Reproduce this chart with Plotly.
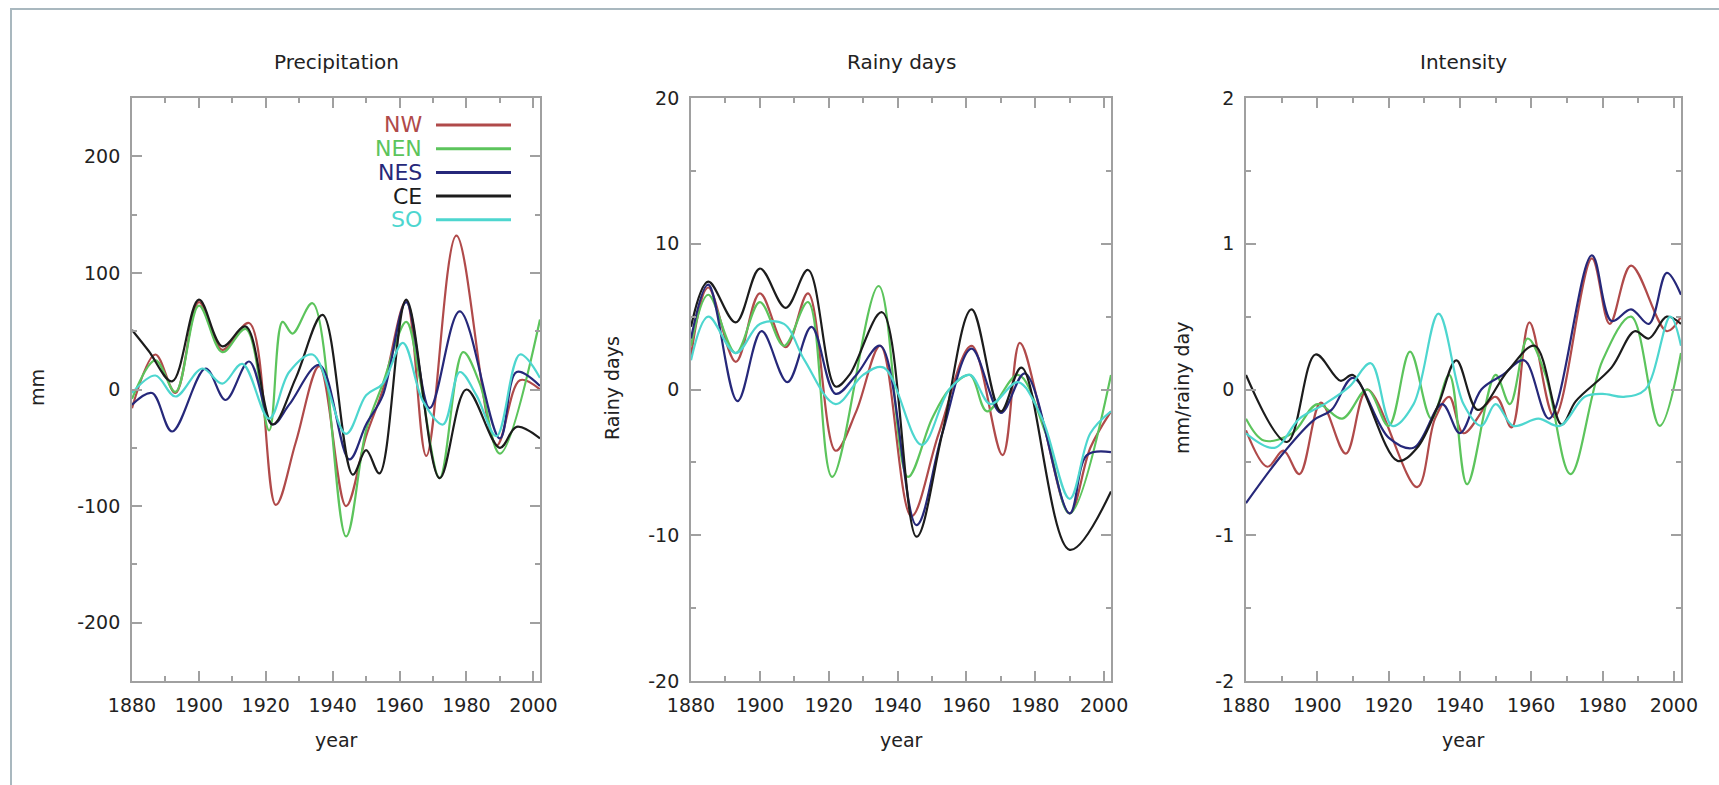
import plotly.graph_objects as go

W, H = 1719, 785

# ---- data -----------------------------------------------------------------
regions = ["NW", "NEN", "NES", "CE", "SO"]
region_colors = ["#b04a4a", "#5cc45c", "#26287a", "#1c1c1c", "#4dd6cf"]

year_ticks = [1880, 1900, 1920, 1940, 1960, 1980, 2000]
year_labels = ["1880", "1900", "1920", "1940", "1960", "1980", "2000"]

# Precipitation anomalies (mm)
precip_nw_years = [1880, 1887, 1893, 1900, 1907, 1915, 1923, 1929, 1936, 1944, 1950, 1955, 1962, 1968, 1977, 1989, 1996, 2002]
precip_nw = [-16, 30, -3, 75, 34, 57, -99, -45, 20, -100, -40, 0, 76, -57, 132, -48, 8, 0]
precip_nen_years = [1880, 1887, 1893, 1900, 1907, 1914, 1921, 1925, 1928, 1934, 1944, 1950, 1955, 1962, 1966, 1972, 1979, 1984, 1990, 2002]
precip_nen = [-8, 25, -2, 72, 32, 52, -35, 58, 48, 74, -126, -35, 5, 58, 10, -76, 32, 5, -55, 60]
precip_nes_years = [1880, 1886, 1892, 1902, 1908, 1915, 1922, 1927, 1936, 1945, 1950, 1955, 1962, 1969, 1978, 1990, 1995, 2002]
precip_nes = [-13, -3, -36, 18, -9, 24, -30, -13, 21, -60, -30, -5, 75, -16, 67, -42, 15, 3]
precip_ce_years = [1880, 1885, 1892, 1900, 1907, 1914, 1922, 1929, 1937, 1946, 1950, 1954, 1962, 1972, 1980, 1990, 1995, 2002]
precip_ce = [51, 33, 7, 77, 37, 54, -30, 10, 64, -73, -52, -72, 77, -76, 0, -50, -32, -42]
precip_so_years = [1880, 1887, 1893, 1901, 1907, 1913, 1921, 1927, 1934, 1944, 1950, 1955, 1961, 1967, 1973, 1978, 1983, 1989, 1996, 2002]
precip_so = [-3, 12, -6, 18, 5, 22, -25, 15, 30, -38, -5, 5, 40, -10, -30, 15, -5, -40, 30, 10]

# Rainy-day anomalies (days)
days_nw_years = [1880, 1885, 1893, 1900, 1907.5, 1914, 1922, 1928, 1935, 1944, 1952, 1961.5, 1970.5, 1975.5, 1982, 1990, 1996, 2002]
days_nw = [2.3, 7, 1.9, 6.6, 2.9, 6.6, -4.2, -1.5, 3, -8.7, -3, 3, -4.5, 3.2, -2, -8.5, -4, -1.5]
days_nen_years = [1880, 1885, 1893, 1900, 1907, 1914, 1921, 1934.5, 1943, 1950, 1955, 1961, 1966, 1975, 1983, 1990, 2002]
days_nen = [3, 6.5, 2.5, 6, 3, 6, -6, 7.1, -6, -2, 0, 1, -1.5, 1, -3, -8.5, 1]
days_nes_years = [1880, 1885, 1893.5, 1900.5, 1908, 1915, 1922, 1928, 1935, 1945.5, 1953, 1961.5, 1970, 1977, 1990, 1995, 2002]
days_nes = [3.5, 7.2, -0.8, 4, 0.5, 4.3, -0.3, 1, 3, -9.3, -3, 2.8, -1.6, 1.1, -8.5, -4.5, -4.3]
days_ce_years = [1880, 1885, 1893, 1900, 1907.5, 1914, 1922, 1926, 1935.5, 1945.5, 1953, 1961.5, 1970, 1976, 1990, 2002]
days_ce = [4.3, 7.4, 4.6, 8.3, 5.6, 8.2, 0.2, 1, 5.3, -10.1, -3, 5.5, -1.5, 1.5, -11, -7]
days_so_years = [1880, 1885, 1893, 1900, 1907, 1913, 1922, 1930, 1936, 1947, 1955, 1961, 1967, 1975, 1982, 1990, 1996, 2002]
days_so = [2, 5, 2.5, 4.5, 4.5, 2, -1, 1, 1.5, -3.8, 0, 1, -1, 0.5, -2, -7.5, -3, -1.5]

# Intensity anomalies (mm / rainy day)
inten_nw_years = [1880, 1886, 1890.5, 1895, 1901, 1908, 1914, 1928, 1933, 1937, 1941, 1950, 1954.5, 1959.5, 1966.5, 1977, 1982, 1988, 1998, 2002]
inten_nw = [-0.28, -0.53, -0.42, -0.58, -0.09, -0.44, 0, -0.67, -0.2, -0.05, -0.3, -0.05, -0.26, 0.46, -0.19, 0.9, 0.45, 0.85, 0.4, 0.5]
inten_nen_years = [1880, 1885, 1893, 1900, 1907, 1914, 1920, 1926, 1932, 1937, 1942, 1950, 1954, 1959, 1964, 1971, 1980, 1988, 1996, 2002]
inten_nen = [-0.2, -0.35, -0.3, -0.1, -0.2, 0, -0.25, 0.26, -0.2, 0.1, -0.65, 0.1, -0.1, 0.35, 0.1, -0.58, 0.2, 0.5, -0.25, 0.25]
inten_nes_years = [1880, 1891, 1899, 1904, 1910, 1920, 1927, 1935, 1940, 1946, 1952, 1958, 1965, 1977, 1982.5, 1988, 1993, 1998, 2002]
inten_nes = [-0.78, -0.42, -0.21, -0.14, 0.08, -0.33, -0.4, -0.1, -0.3, 0, 0.1, 0.2, -0.2, 0.92, 0.47, 0.55, 0.45, 0.8, 0.65]
inten_ce_years = [1880, 1891.5, 1899.5, 1906.5, 1910, 1922.5, 1928, 1934, 1939, 1945, 1953.5, 1961, 1968.5, 1972.5, 1982.5, 1989, 1993, 1998, 2002]
inten_ce = [0.1, -0.36, 0.24, 0.06, 0.1, -0.49, -0.4, -0.1, 0.2, -0.14, 0.13, 0.3, -0.24, -0.08, 0.15, 0.4, 0.35, 0.5, 0.45]
inten_so_years = [1880, 1888, 1895, 1902, 1909, 1915, 1921, 1927, 1934, 1941, 1946, 1950, 1955, 1962, 1968, 1975, 1980, 1986, 1992, 1999, 2002]
inten_so = [-0.3, -0.4, -0.2, -0.1, 0.02, 0.18, -0.25, -0.1, 0.52, -0.1, -0.25, -0.1, -0.25, -0.2, -0.25, -0.05, -0.03, -0.05, 0, 0.5, 0.3]

precip_ticks = [-200, -100, 0, 100, 200]
days_ticks = [-20, -10, 0, 10, 20]
inten_ticks = [-2, -1, 0, 1, 2]

# ---- layout helpers ---------------------------------------------------------
FONT = "DejaVu Sans"
AXIS_GRAY = "#a0a0a0"
TEXT = "#222222"

# pixel placement of the three plot frames
panel_px = [(132, 540), (691, 1111), (1246, 1681)]
plot_top, plot_bottom = 98, 681
ydom = [1 - plot_bottom / H, 1 - plot_top / H]


def px(x):
    return x / W


def py(y):
    return 1 - y / H


panels = [
    dict(title="Precipitation", ytitle="mm", ytitle_x=37, yrange=[-250, 250], yticks=precip_ticks, yminor=50,
         series=[(precip_nw_years, precip_nw), (precip_nen_years, precip_nen), (precip_nes_years, precip_nes),
                 (precip_ce_years, precip_ce), (precip_so_years, precip_so)]),
    dict(title="Rainy days", ytitle="Rainy days", ytitle_x=612, yrange=[-20, 20], yticks=days_ticks, yminor=5,
         series=[(days_nw_years, days_nw), (days_nen_years, days_nen), (days_nes_years, days_nes),
                 (days_ce_years, days_ce), (days_so_years, days_so)]),
    dict(title="Intensity", ytitle="mm/rainy day", ytitle_x=1182, yrange=[-2, 2], yticks=inten_ticks, yminor=0.5,
         series=[(inten_nw_years, inten_nw), (inten_nen_years, inten_nen), (inten_nes_years, inten_nes),
                 (inten_ce_years, inten_ce), (inten_so_years, inten_so)]),
]

fig = go.Figure()
annotations = []
shapes = []
layout_axes = {}

for i, p in enumerate(panels):
    n = "" if i == 0 else str(i + 1)
    xa, ya = "x" + n, "y" + n
    for (yrs, vals), name, col in zip(p["series"], regions, region_colors):
        fig.add_trace(go.Scatter(
            x=yrs, y=vals, mode="lines", name=name, xaxis=xa, yaxis=ya,
            line=dict(color=col, width=2.2, shape="spline", smoothing=1.0),
            showlegend=False, hoverinfo="skip",
        ))

    x0, x1 = panel_px[i]
    lo, hi = p["yrange"]
    yminor_vals = []
    v = lo
    while v <= hi + 1e-9:
        if all(abs(v - t) > 1e-9 for t in p["yticks"]):
            yminor_vals.append(round(v, 6))
        v += p["yminor"]

    common = dict(
        ticks="inside", ticklen=10, tickwidth=1.5, tickcolor=AXIS_GRAY,
        showline=True, linecolor=AXIS_GRAY, linewidth=1.8, mirror="ticks",
        showgrid=False, zeroline=False, automargin=False,
        tickfont=dict(family=FONT, size=19, color=TEXT),
    )
    layout_axes["xaxis" + n] = dict(
        domain=[px(x0), px(x1)], range=[1880, 2002], anchor=ya,
        tickmode="array", tickvals=year_ticks, ticktext=year_labels,
        minor=dict(tickvals=[1890, 1910, 1930, 1950, 1970, 1990], ticks="inside", ticklen=5,
                   tickcolor=AXIS_GRAY, showgrid=False),
        ticklabelstandoff=6, **common)
    layout_axes["yaxis" + n] = dict(
        domain=ydom, range=[lo, hi], anchor=xa,
        tickmode="array", tickvals=p["yticks"], ticktext=[str(t) for t in p["yticks"]],
        minor=dict(tickvals=yminor_vals, ticks="inside", ticklen=5, tickcolor=AXIS_GRAY, showgrid=False),
        ticklabelstandoff=6, **common)

    cx = (x0 + x1) / 2
    annotations.append(dict(text=p["title"], x=px(cx), y=py(62), xref="paper", yref="paper",
                            showarrow=False, xanchor="center", yanchor="middle",
                            font=dict(family=FONT, size=20, color=TEXT)))
    annotations.append(dict(text="year", x=px(cx), y=py(740), xref="paper", yref="paper",
                            showarrow=False, xanchor="center", yanchor="middle",
                            font=dict(family=FONT, size=19, color=TEXT)))
    annotations.append(dict(text=p["ytitle"], x=px(p["ytitle_x"]), y=py(388), xref="paper", yref="paper",
                            showarrow=False, textangle=-90, xanchor="center", yanchor="middle",
                            font=dict(family=FONT, size=19, color=TEXT)))

# key inside the precipitation frame: label then line sample
for k, (name, col) in enumerate(zip(regions, region_colors)):
    ky = 125 + k * 23.7
    annotations.append(dict(text=name, x=px(424), y=py(ky), xref="paper", yref="paper",
                            showarrow=False, xanchor="right", yanchor="middle",
                            font=dict(family=FONT, size=22, color=col)))
    shapes.append(dict(type="line", xref="paper", yref="paper", x0=px(436), x1=px(511),
                       y0=py(ky), y1=py(ky), line=dict(color=col, width=3)))

# outer frame around the figure
shapes.append(dict(type="rect", xref="paper", yref="paper", x0=px(11), x1=1.05, y0=-0.05, y1=py(9),
                   line=dict(color="#a9b8bf", width=2), layer="below"))

fig.update_layout(
    width=W, height=H, autosize=False,
    margin=dict(l=0, r=0, t=0, b=0),
    paper_bgcolor="white", plot_bgcolor="white",
    annotations=annotations, shapes=shapes,
    **layout_axes,
)

fig.write_html("out.html")
